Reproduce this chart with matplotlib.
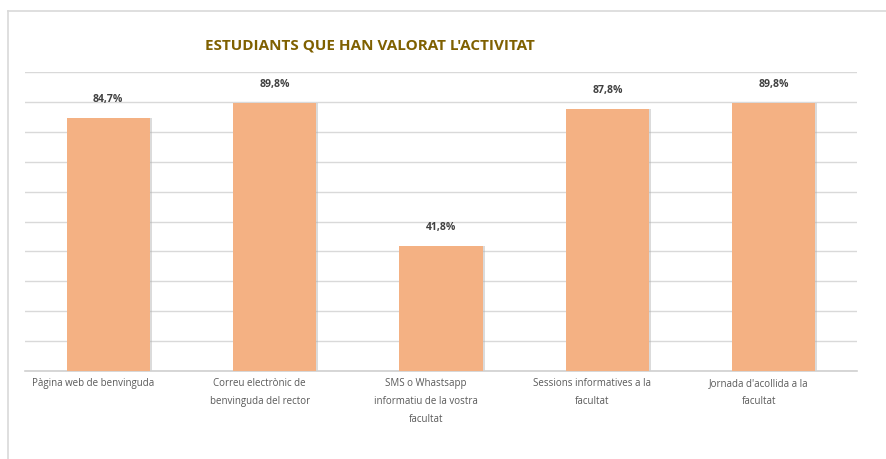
import matplotlib
matplotlib.use("Agg")
import matplotlib.pyplot as plt
from matplotlib.lines import Line2D
import matplotlib.transforms as mtransforms

plt.rcParams['font.family'] = ['Open Sans', 'DejaVu Sans']

title = "ESTUDIANTS QUE HAN VALORAT L'ACTIVITAT"
categories = [
    "Pàgina web de benvinguda",
    "Correu electrònic de\nbenvinguda del rector",
    "SMS o Whastsapp\ninformatiu de la vostra\nfacultat",
    "Sessions informatives a la\nfacultat",
    "Jornada d'acollida a la\nfacultat",
]
values = [84.7, 89.8, 41.8, 87.8, 89.8]
value_labels = ["84,7%", "89,8%", "41,8%", "87,8%", "89,8%"]

W, H = 886, 459
fig = plt.figure(figsize=(W / 100, H / 100), dpi=100)
fig.patch.set_facecolor("white")

# chart frame (top and left edges)
fig.add_artist(Line2D([8 / W, 1], [1 - 11 / H, 1 - 11 / H], color="#D9D9D9", lw=1.2))
fig.add_artist(Line2D([8 / W, 8 / W], [0, 1 - 11 / H], color="#D9D9D9", lw=1.2))

left, right = 25, 857
bottom, top = 370.7, 72.3
ax = fig.add_axes([left / W, 1 - bottom / H, (right - left) / W, (bottom - top) / H])
ax.set_xlim(-0.5, len(categories) - 0.5)
ax.set_ylim(0, 100)

ax.set_yticks(range(0, 101, 10))
ax.yaxis.grid(True, color="#D9D9D9", lw=1)
ax.set_axisbelow(True)
ax.tick_params(axis="y", left=False, labelleft=False)
ax.tick_params(axis="x", bottom=False, pad=1.5)
for s in ["top", "right", "left"]:
    ax.spines[s].set_visible(False)
ax.spines["bottom"].set_color("#D0D0D0")
ax.spines["bottom"].set_linewidth(1.2)

x = list(range(len(categories)))
bw = 0.5
# soft drop shadow behind each bar
ax.bar([i + 0.012 for i in x], values, width=bw, color="#B0B0B0", alpha=0.45, zorder=2)
ax.bar(x, values, width=bw, color="#F4B183", zorder=3)

for i, (v, lab) in enumerate(zip(values, value_labels)):
    ax.annotate(lab, (i, v), xytext=(0, 9), textcoords="offset points",
                ha="center", va="bottom", fontsize=7.5, fontweight="bold", color="#404040")

ax.set_xticks(x)
ax.set_xticklabels(categories, fontsize=7, color="#595959", linespacing=1.9, va="top")
shift = mtransforms.ScaledTranslation(-15 / 100, 0, fig.dpi_scale_trans)
for t in ax.get_xticklabels():
    t.set_transform(t.get_transform() + shift)

fig.text(205 / W, 1 - 45 / H, title, fontsize=11, fontweight="bold", color="#7F6000",
         ha="left", va="center")

fig.savefig("out.png", dpi=100, facecolor="white")
